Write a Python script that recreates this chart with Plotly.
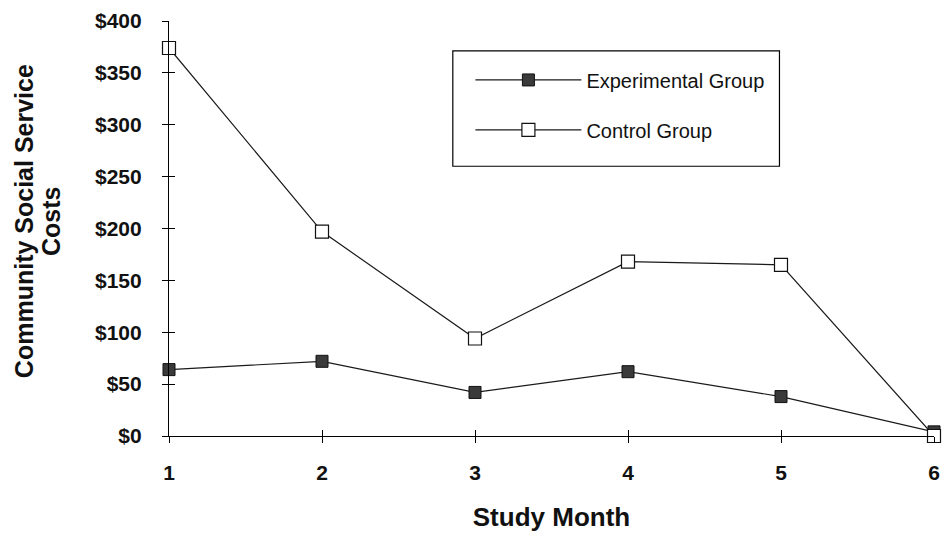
import plotly.graph_objects as go

# Study months and per-group community social service costs (USD)
months = [1, 2, 3, 4, 5, 6]
experimental_costs = [64, 72, 42, 62, 38, 4]
control_costs = [374, 197, 94, 168, 165, 0]

y_ticks = [0, 50, 100, 150, 200, 250, 300, 350, 400]
y_tick_labels = ["$" + str(v) for v in y_ticks]

y_title_lines = ["Community Social Service", "Costs"]

FONT = "Liberation Sans, Arial, sans-serif"
INK = "#1a1a1a"

fig = go.Figure()

fig.add_trace(go.Scatter(
    x=months, y=experimental_costs, mode="lines+markers",
    name="Experimental Group", legendgroup="exp",
    line=dict(color=INK, width=1.2),
    marker=dict(symbol="square", size=12, color="#3a3a3a",
                line=dict(color="#111111", width=1)),
    cliponaxis=False,
))
fig.add_trace(go.Scatter(
    x=months, y=control_costs, mode="lines+markers",
    name="Control Group", legendgroup="ctl",
    line=dict(color=INK, width=1.2),
    marker=dict(symbol="square", size=13, color="white",
                line=dict(color="#111111", width=1.2)),
    cliponaxis=False,
))

axis_common = dict(showgrid=False, zeroline=False, showline=True,
                   linecolor="black", linewidth=1.2, tickcolor="black",
                   tickwidth=1.2)

fig.update_layout(
    width=949, height=537,
    margin=dict(l=169, r=9, t=19, b=101),
    paper_bgcolor="white", plot_bgcolor="white",
    font=dict(family=FONT, color="#111111"),
    xaxis=dict(
        range=[1, 6], tickvals=months, ticks="outside", ticklen=6,
        tickfont=dict(size=21, weight="bold"), ticklabelstandoff=12,
        title=dict(text="Study Month", font=dict(size=26, weight="bold"),
                   standoff=24),
        **axis_common,
    ),
    xaxis2=dict(
        range=[1, 6], tickvals=months, ticks="inside", ticklen=6,
        showticklabels=False, overlaying="x", matches="x",
        **axis_common,
    ),
    yaxis=dict(
        range=[0, 400], tickvals=y_ticks, ticktext=y_tick_labels,
        ticks="outside", ticklen=6, ticklabelstandoff=16,
        tickfont=dict(size=21, weight="bold"),
        **axis_common,
    ),
    yaxis2=dict(
        range=[0, 400], tickvals=y_ticks, ticks="inside", ticklen=6,
        showticklabels=False, overlaying="y", matches="y",
        **axis_common,
    ),
    showlegend=True,
    legend=dict(
        x=0.394, y=0.905, xanchor="left", yanchor="top",
        bgcolor="rgba(0,0,0,0)", borderwidth=0,
        font=dict(size=20, family=FONT, color="#111111"),
        itemwidth=106, traceorder="grouped", tracegroupgap=21,
    ),
    shapes=[dict(type="rect", xref="paper", yref="paper",
                 x0=0.371, x1=0.798, y0=0.650, y1=0.928,
                 line=dict(color="black", width=1.2),
                 fillcolor="rgba(0,0,0,0)")],
)

# Two-line vertical axis title, set tightly like the original
for line_text, x_pos in zip(y_title_lines, [-0.1894, -0.1543]):
    fig.add_annotation(
        text=line_text, textangle=-90, xref="paper", yref="paper",
        x=x_pos, y=0.518, xanchor="center", yanchor="middle",
        showarrow=False, font=dict(size=25, weight="bold", color="#111111"),
    )

# Invisible trace on the overlay axes so their crossing ticks are drawn
fig.add_trace(go.Scatter(x=[None], y=[None], xaxis="x2", yaxis="y2",
                         showlegend=False, hoverinfo="skip"))

fig.write_html("out.html")
